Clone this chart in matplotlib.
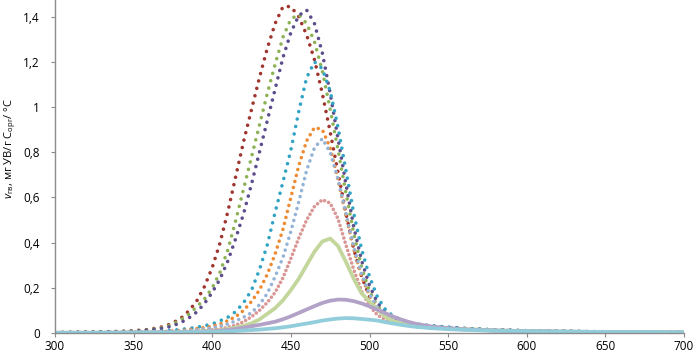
import matplotlib
matplotlib.use("Agg")
import matplotlib.pyplot as plt
from matplotlib.ticker import FuncFormatter

plt.rcParams['font.family'] = ['Open Sans', 'DejaVu Sans']
plt.rcParams['mathtext.fontset'] = 'custom'
plt.rcParams['mathtext.rm'] = 'Open Sans'
plt.rcParams['mathtext.it'] = 'Open Sans:italic'

# temperature, °C
temp = [300, 310, 320, 330, 340, 350, 360,
        370, 375, 380, 385, 390, 395,
        400, 405, 410, 415, 420, 425, 430, 435, 440, 445,
        450, 455, 460, 465, 470, 475, 480, 485, 490, 495,
        500, 505, 510, 515, 520, 525, 530,
        540, 550, 560, 570, 580, 600, 620, 640, 660, 680, 700]

# generation rate, mg HC / g Corg / °C
rate_1 = [0.002, 0.003, 0.004, 0.005, 0.007, 0.010, 0.016,
          0.030, 0.045, 0.065, 0.097, 0.140, 0.205,
          0.290, 0.400, 0.540, 0.695, 0.850, 0.990, 1.130, 1.260, 1.370, 1.445,
          1.445, 1.400, 1.320, 1.210, 1.060, 0.890, 0.710, 0.530, 0.370, 0.250,
          0.160, 0.105, 0.075, 0.058, 0.047, 0.040, 0.035,
          0.028, 0.023, 0.019, 0.016, 0.013, 0.010, 0.008, 0.006, 0.005, 0.004, 0.003]
rate_2 = [0.002, 0.003, 0.004, 0.005, 0.006, 0.009, 0.014,
          0.026, 0.040, 0.058, 0.083, 0.115, 0.150,
          0.200, 0.270, 0.370, 0.500, 0.640, 0.780, 0.920, 1.060, 1.190, 1.310,
          1.390, 1.410, 1.370, 1.290, 1.160, 0.990, 0.810, 0.620, 0.440, 0.290,
          0.185, 0.120, 0.083, 0.062, 0.050, 0.042, 0.036,
          0.029, 0.024, 0.020, 0.016, 0.013, 0.010, 0.008, 0.006, 0.005, 0.004, 0.003]
rate_3 = [0.002, 0.003, 0.004, 0.005, 0.006, 0.008, 0.013,
          0.022, 0.032, 0.046, 0.066, 0.092, 0.130,
          0.180, 0.240, 0.320, 0.420, 0.530, 0.660, 0.800, 0.940, 1.080, 1.220,
          1.330, 1.405, 1.430, 1.370, 1.240, 1.060, 0.860, 0.660, 0.470, 0.320,
          0.210, 0.135, 0.090, 0.066, 0.052, 0.043, 0.037,
          0.030, 0.025, 0.020, 0.017, 0.014, 0.010, 0.008, 0.006, 0.005, 0.004, 0.003]
rate_4 = [0.001, 0.002, 0.002, 0.003, 0.004, 0.005, 0.007,
          0.009, 0.012, 0.016, 0.020, 0.025, 0.032,
          0.040, 0.054, 0.070, 0.095, 0.135, 0.190, 0.280, 0.390, 0.535, 0.670,
          0.810, 0.980, 1.130, 1.200, 1.170, 1.070, 0.910, 0.720, 0.530, 0.370,
          0.250, 0.160, 0.105, 0.075, 0.058, 0.047, 0.040,
          0.032, 0.026, 0.021, 0.017, 0.014, 0.010, 0.008, 0.006, 0.005, 0.004, 0.003]
rate_5 = [0.001, 0.001, 0.002, 0.002, 0.003, 0.004, 0.005,
          0.007, 0.009, 0.011, 0.015, 0.019, 0.024,
          0.030, 0.040, 0.055, 0.073, 0.100, 0.140, 0.190, 0.260, 0.350, 0.460,
          0.600, 0.740, 0.850, 0.910, 0.900, 0.820, 0.680, 0.520, 0.370, 0.250,
          0.165, 0.110, 0.078, 0.060, 0.048, 0.040, 0.034,
          0.027, 0.022, 0.018, 0.015, 0.012, 0.009, 0.007, 0.005, 0.004, 0.003, 0.003]
rate_6 = [0.001, 0.001, 0.002, 0.002, 0.003, 0.003, 0.004,
          0.005, 0.007, 0.009, 0.011, 0.014, 0.018,
          0.023, 0.030, 0.040, 0.054, 0.070, 0.090, 0.125, 0.175, 0.250, 0.335,
          0.450, 0.580, 0.720, 0.820, 0.860, 0.800, 0.680, 0.530, 0.380, 0.260,
          0.170, 0.115, 0.080, 0.061, 0.049, 0.041, 0.035,
          0.028, 0.022, 0.018, 0.015, 0.012, 0.009, 0.007, 0.005, 0.004, 0.003, 0.003]
rate_7 = [0.001, 0.001, 0.001, 0.001, 0.002, 0.002, 0.003,
          0.003, 0.004, 0.005, 0.006, 0.008, 0.010,
          0.014, 0.018, 0.025, 0.035, 0.050, 0.072, 0.100, 0.135, 0.180, 0.245,
          0.330, 0.420, 0.500, 0.560, 0.590, 0.575, 0.505, 0.390, 0.280, 0.185,
          0.120, 0.080, 0.058, 0.046, 0.038, 0.033, 0.029,
          0.024, 0.020, 0.017, 0.014, 0.012, 0.009, 0.007, 0.005, 0.004, 0.003, 0.003]
rate_8 = [0.001, 0.001, 0.001, 0.001, 0.001, 0.002, 0.002,
          0.002, 0.003, 0.004, 0.005, 0.006, 0.008,
          0.010, 0.013, 0.018, 0.024, 0.032, 0.043, 0.060, 0.085, 0.110, 0.145,
          0.190, 0.240, 0.300, 0.360, 0.405, 0.418, 0.385, 0.315, 0.240, 0.175,
          0.140, 0.105, 0.072, 0.053, 0.042, 0.035, 0.030,
          0.024, 0.020, 0.016, 0.014, 0.011, 0.008, 0.006, 0.005, 0.004, 0.003, 0.002]
rate_9 = [0.001, 0.001, 0.001, 0.001, 0.002, 0.002, 0.002,
          0.003, 0.003, 0.004, 0.004, 0.005, 0.006,
          0.008, 0.010, 0.014, 0.018, 0.024, 0.030, 0.036, 0.043, 0.050, 0.061,
          0.074, 0.089, 0.104, 0.119, 0.133, 0.143, 0.148, 0.147, 0.141, 0.131,
          0.118, 0.103, 0.088, 0.073, 0.060, 0.049, 0.040,
          0.028, 0.021, 0.016, 0.013, 0.011, 0.008, 0.006, 0.005, 0.004, 0.003, 0.002]
rate_10 = [0.001, 0.001, 0.001, 0.001, 0.001, 0.001, 0.002,
           0.002, 0.002, 0.003, 0.003, 0.004, 0.004,
           0.005, 0.006, 0.007, 0.009, 0.011, 0.013, 0.015, 0.018, 0.021, 0.025,
           0.030, 0.036, 0.042, 0.048, 0.055, 0.060, 0.064, 0.066, 0.065, 0.062,
           0.059, 0.055, 0.048, 0.042, 0.036, 0.031, 0.027,
           0.021, 0.017, 0.014, 0.012, 0.010, 0.008, 0.006, 0.005, 0.004, 0.004, 0.003]

x_ticks = [300, 350, 400, 450, 500, 550, 600, 650, 700]
y_ticks = [0, 0.2, 0.4, 0.6, 0.8, 1.0, 1.2, 1.4]

series = [rate_1, rate_2, rate_3, rate_4, rate_5, rate_6, rate_7, rate_8, rate_9, rate_10]
colors = ['#A0352F', '#8DB255', '#5E4D8C', '#31A3C4', '#EE8C35',
          '#95B3D7', '#D99694', '#C3D69B', '#B3A2C7', '#92CDDC']
# dot gap (in line widths); None -> solid line
gaps = [2.1, 2.1, 2.1, 2.1, 1.7, 1.7, 1.2, None, None, None]

fig = plt.figure(figsize=(6.94, 3.54), dpi=100)
ax = fig.add_axes([55 / 694, 21 / 354, 629 / 694, 333 / 354])

for vals, col, gap in zip(series, colors, gaps):
    if gap is None:
        ax.plot(temp, vals, color=col, lw=2.7, solid_capstyle='round',
                solid_joinstyle='round')
    else:
        ax.plot(temp, vals, color=col, lw=2.6, linestyle=(0, (0.01, gap)),
                dash_capstyle='round')

ax.set_xlim(300, 700)
ax.set_ylim(0, 1.474)
ax.set_xticks(x_ticks)
ax.set_yticks(y_ticks)
ax.yaxis.set_major_formatter(FuncFormatter(lambda v, p: f'{v:g}'.replace('.', ',')))

for side in ['top', 'right']:
    ax.spines[side].set_visible(False)
for side in ['left', 'bottom']:
    ax.spines[side].set_color('#8C8C8C')
    ax.spines[side].set_linewidth(1.0)

ax.tick_params(axis='y', direction='out', length=3, width=0.8, color='#8C8C8C',
               labelsize=8.5, pad=8)
ax.tick_params(axis='x', direction='out', length=3, width=0.8, color='#8C8C8C',
               labelsize=8.5, pad=2)

fig.text(10.5 / 694, 1 - 148 / 354,
         r'$v_{\mathrm{гв}}$, мг УВ/г C$_{\mathrm{орг}}$/ °C',
         rotation=90, ha='center', va='center', fontsize=8)

fig.savefig('out.png', dpi=100, facecolor='white')
